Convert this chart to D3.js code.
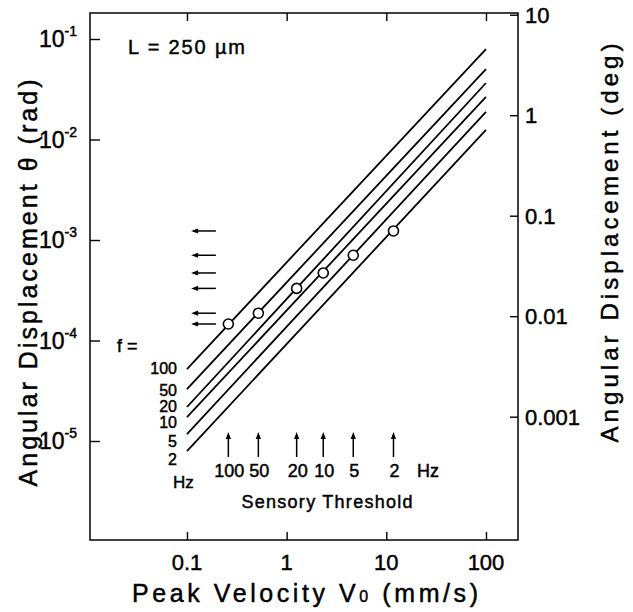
<!DOCTYPE html>
<html><head><meta charset="utf-8">
<script src="https://cdn.jsdelivr.net/npm/d3@7"></script>
<style>
body{margin:0;background:#fff}
text{font-family:'Liberation Sans',Arial,sans-serif;fill:#000;stroke:#000;stroke-width:0.45px}
</style>
</head><body>
<svg id="chart" width="633" height="612"></svg>
<script>
// ---- data ----
const xTickValues = [0.1, 1, 10, 100];
const xTickLabels = ["0.1", "1", "10", "100"];
const yTickValuesRad = [1e-1, 1e-2, 1e-3, 1e-4, 1e-5];
const yTickExponents = ["-1", "-2", "-3", "-4", "-5"];
const yTickValuesDeg = [10, 1, 0.1, 0.01, 0.001];
const yTickLabelsDeg = ["10", "1", "0.1", "0.01", "0.001"];
const frequencies = [100, 50, 20, 10, 5, 2];
const lineVelocityRange = [0.1, 100];
const lineThetaStart = [5.20e-5, 3.29e-5, 2.18e-5, 1.73e-5, 1.17e-5, 7.94e-6];
const lineThetaEnd = [0.0795, 0.0502, 0.0365, 0.0265, 0.0188, 0.01245];
const thresholdVelocity = [0.26, 0.52, 1.26, 2.33, 4.66, 11.8];
const thresholdTheta = [1.46e-4, 1.87e-4, 3.30e-4, 4.70e-4, 7.05e-4, 1.23e-3];

// ---- layout ----
const L = 90, R = 518, T = 13, B = 540;
const svg = d3.select("#chart");
const x = d3.scaleLog().domain([0.01064, 209.5]).range([L, R]);
const y = d3.scaleLog().domain([1.035e-6, 0.1815]).range([B, T]);
const r2d = 180 / Math.PI;
const yDeg = d3.scaleLog().domain([1.035e-6 * r2d, 0.1815 * r2d]).range([B, T]);

// frame
svg.append("rect").attr("x", L).attr("y", T).attr("width", R - L).attr("height", B - T)
  .attr("fill", "none").attr("stroke", "#000").attr("stroke-width", 1.5);

function styleAxis(g){
  g.select(".domain").remove();
  g.selectAll(".tick line").attr("stroke", "#000").attr("stroke-width", 1.4);
  g.selectAll(".tick text").remove();
}
svg.append("g").attr("transform", `translate(${L},0)`)
  .call(d3.axisLeft(y).tickValues(yTickValuesRad).tickSizeInner(-10).tickSizeOuter(0)).call(styleAxis);
svg.append("g").attr("transform", `translate(${R},0)`)
  .call(d3.axisRight(yDeg).tickValues(yTickValuesDeg).tickSizeInner(-8).tickSizeOuter(0)).call(styleAxis);
svg.append("g").attr("transform", `translate(0,${B})`)
  .call(d3.axisBottom(x).tickValues(xTickValues).tickSizeInner(-8).tickSizeOuter(0)).call(styleAxis);
svg.append("g").attr("transform", `translate(0,${T})`)
  .call(d3.axisTop(x).tickValues(xTickValues).tickSizeInner(-8).tickSizeOuter(0)).call(styleAxis);

// left tick labels 10^n
yTickValuesRad.forEach((v, i) => {
  const t = svg.append("text").attr("x", 77).attr("y", y(v) + 8).attr("text-anchor", "end")
    .style("font-size", "23px");
  t.append("tspan").text("10");
  t.append("tspan").attr("dy", -11).style("font-size", "14px").text(yTickExponents[i]);
});
// right tick labels
yTickValuesDeg.forEach((v, i) => {
  svg.append("text").attr("x", 525).attr("y", yDeg(v) + 8).style("font-size", "22px").text(yTickLabelsDeg[i]);
});
// bottom tick labels
xTickValues.forEach((v, i) => {
  svg.append("text").attr("x", x(v)).attr("y", 570).attr("text-anchor", "middle")
    .style("font-size", "22px").text(xTickLabels[i]);
});

// axis titles
const xt = svg.append("text").attr("x", 305).attr("y", 602).attr("text-anchor", "middle")
  .style("font-size", "25px").attr("textLength", 346).attr("lengthAdjust", "spacing");
xt.append("tspan").text("Peak Velocity V");
xt.append("tspan").style("font-size", "16px").text("0");
xt.append("tspan").text(" (mm/s)");

svg.append("text").attr("transform", "translate(37,283) rotate(-90)").attr("text-anchor", "middle")
  .style("font-size", "25px").attr("textLength", 407).attr("lengthAdjust", "spacing")
  .text("Angular Displacement θ (rad)");
svg.append("text").attr("transform", "translate(618,243) rotate(-90)").attr("text-anchor", "middle")
  .style("font-size", "24px").attr("textLength", 399).attr("lengthAdjust", "spacing")
  .text("Angular Displacement  (deg)");

svg.append("text").attr("x", 128).attr("y", 54).style("font-size", "20px")
  .attr("textLength", 117).attr("lengthAdjust", "spacing").text("L = 250 µm");

// frequency lines
const line = d3.line().x(d => x(d[0])).y(d => y(d[1]));
frequencies.forEach((f, i) => {
  svg.append("path")
    .attr("d", line([[lineVelocityRange[0], lineThetaStart[i]], [lineVelocityRange[1], lineThetaEnd[i]]]))
    .attr("fill", "none").attr("stroke", "#000").attr("stroke-width", 1.8);
});

// threshold circles
thresholdVelocity.forEach((v, i) => {
  svg.append("circle").attr("cx", x(v)).attr("cy", y(thresholdTheta[i])).attr("r", 5)
    .attr("fill", "#fff").attr("stroke", "#000").attr("stroke-width", 1.6);
});

// horizontal arrows (threshold levels)
const arrowTipV = 0.11, arrowTailV = 0.195;
thresholdTheta.forEach(th => {
  const yy = y(th), xt0 = x(arrowTipV), xt1 = x(arrowTailV);
  svg.append("line").attr("x1", xt0 + 5).attr("x2", xt1).attr("y1", yy).attr("y2", yy)
    .attr("stroke", "#000").attr("stroke-width", 1.5);
  svg.append("path").attr("d", `M${xt0},${yy} L${xt0 + 7},${yy - 2.6} L${xt0 + 7},${yy + 2.6} Z`).attr("fill", "#000");
});

// vertical arrows (threshold velocities)
const vArrowTop = 432, vArrowBottom = 457;
thresholdVelocity.forEach((v, i) => {
  const xx = x(v);
  svg.append("line").attr("x1", xx).attr("x2", xx).attr("y1", vArrowTop + 5).attr("y2", vArrowBottom)
    .attr("stroke", "#000").attr("stroke-width", 1.5);
  svg.append("path").attr("d", `M${xx},${vArrowTop} L${xx - 2.6},${vArrowTop + 7} L${xx + 2.6},${vArrowTop + 7} Z`).attr("fill", "#000");
  svg.append("text").attr("x", xx + 1).attr("y", 477).attr("text-anchor", "middle")
    .style("font-size", "18px").text(frequencies[i]);
});
svg.append("text").attr("x", 417).attr("y", 477).style("font-size", "18px").text("Hz");
svg.append("text").attr("x", 327).attr("y", 508).attr("text-anchor", "middle").style("font-size", "18px")
  .attr("textLength", 171).attr("lengthAdjust", "spacing").text("Sensory Threshold");

// line labels on the left
const freqLabelBaseline = [374, 396, 412, 428, 447, 465];
svg.append("text").attr("x", 117).attr("y", 352).style("font-size", "18px").text("f =");
frequencies.forEach((f, i) => {
  svg.append("text").attr("x", 177).attr("y", freqLabelBaseline[i]).attr("text-anchor", "end")
    .style("font-size", "16px").text(f);
});
svg.append("text").attr("x", 173).attr("y", 488).style("font-size", "17px").text("Hz");
</script>
</body></html>
